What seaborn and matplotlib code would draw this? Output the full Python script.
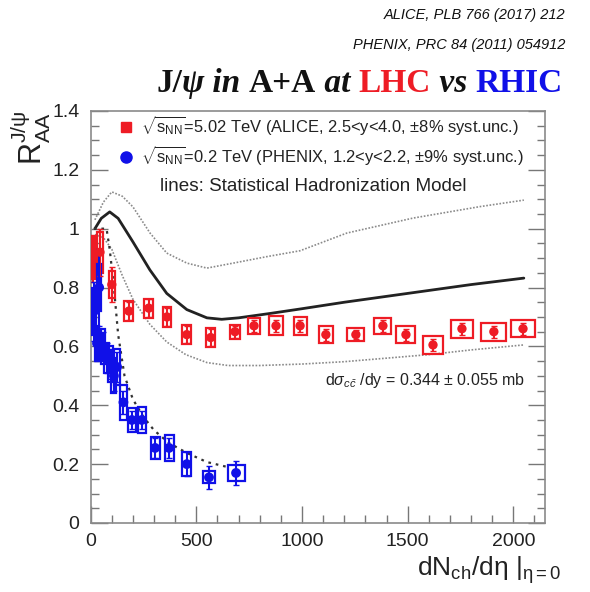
import numpy as np
import pandas as pd
import matplotlib
matplotlib.use("Agg")
import matplotlib.pyplot as plt
import seaborn as sns
from matplotlib.patches import Rectangle
from matplotlib.lines import Line2D

# ---------------- data ----------------
alice_x = [13, 44, 100, 181, 275, 361, 455, 568, 683, 773, 877, 991, 1113, 1255, 1383, 1492, 1620, 1757, 1908, 2046]
alice_y = [0.90, 0.92, 0.81, 0.72, 0.73, 0.70, 0.64, 0.63, 0.65, 0.67, 0.67, 0.67, 0.64, 0.64, 0.67, 0.64, 0.605, 0.66, 0.65, 0.66]
alice_stat = [0.08, 0.08, 0.06, 0.03, 0.03, 0.03, 0.03, 0.03, 0.02, 0.02, 0.02, 0.02, 0.02, 0.015, 0.02, 0.02, 0.02, 0.02, 0.02, 0.02]
alice_sy = [0.07, 0.07, 0.045, 0.035, 0.032, 0.034, 0.032, 0.032, 0.024, 0.027, 0.032, 0.03, 0.03, 0.022, 0.028, 0.03, 0.03, 0.03, 0.03, 0.028]
alice_sx = [7, 14, 13, 21, 21, 19, 21, 21, 24, 28, 33, 31, 33, 40, 40, 45, 47, 54, 59, 55]

phenix_x = [16, 30, 40, 60, 77, 95, 110, 125, 155, 195, 242, 305, 371, 455, 560, 688]
phenix_y = [0.72, 0.61, 0.80, 0.60, 0.56, 0.54, 0.50, 0.53, 0.41, 0.35, 0.35, 0.255, 0.255, 0.20, 0.155, 0.17]
phenix_stat = [0.10, 0.06, 0.13, 0.05, 0.05, 0.05, 0.05, 0.05, 0.04, 0.03, 0.03, 0.035, 0.035, 0.04, 0.04, 0.04]
phenix_sy = [0.08, 0.06, 0.08, 0.06, 0.05, 0.06, 0.06, 0.06, 0.06, 0.04, 0.043, 0.037, 0.043, 0.04, 0.02, 0.027]
phenix_sx = [8, 8, 8, 10, 12, 12, 12, 14, 17, 18, 20, 21, 21, 21, 28, 40]

shm_x = [20, 50, 90, 130, 200, 280, 360, 455, 550, 620, 700, 850, 1000, 1200, 1400, 1600, 1800, 2050]
shm_y = [1.00, 1.035, 1.057, 1.035, 0.955, 0.86, 0.78, 0.725, 0.697, 0.692, 0.697, 0.712, 0.728, 0.75, 0.77, 0.79, 0.81, 0.832]

shm_up_x = [20, 60, 100, 150, 200, 281, 360, 455, 550, 675, 834, 991, 1212, 1526, 1843, 2050]
shm_up_y = [1.03, 1.09, 1.125, 1.11, 1.074, 0.985, 0.917, 0.883, 0.866, 0.883, 0.905, 0.925, 0.985, 1.036, 1.075, 1.097]

shm_lo_x = [20, 60, 100, 150, 200, 280, 360, 450, 550, 650, 800, 1000, 1200, 1400, 1600, 1800, 2050]
shm_lo_y = [0.98, 0.97, 0.93, 0.84, 0.76, 0.675, 0.615, 0.572, 0.545, 0.535, 0.535, 0.54, 0.548, 0.56, 0.572, 0.588, 0.605]

rhic_shm_x = [15, 75, 90, 110, 130, 160, 200, 250, 300, 370, 455, 550, 660]
rhic_shm_y = [1.0, 1.0, 0.93, 0.80, 0.64, 0.50, 0.42, 0.36, 0.315, 0.272, 0.238, 0.207, 0.188]

xticks = [0, 500, 1000, 1500, 2000]
xtick_labels = ["0", "500", "1000", "1500", "2000"]
yticks = [0, 0.2, 0.4, 0.6, 0.8, 1.0, 1.2, 1.4]
ytick_labels = ["0", "0.2", "0.4", "0.6", "0.8", "1", "1.2", "1.4"]

RED = "#ee1c25"
BLUE = "#1010e8"

# ---------------- style ----------------
sns.set_theme(style="ticks")
plt.rcParams["font.family"] = ["Liberation Sans", "DejaVu Sans"]
plt.rcParams["mathtext.fontset"] = "custom"
plt.rcParams["mathtext.rm"] = "Liberation Sans"
plt.rcParams["mathtext.it"] = "Liberation Sans:italic"
plt.rcParams["mathtext.bf"] = "Liberation Sans:bold"

fig = plt.figure(figsize=(5.9, 5.92), dpi=100)
ax = fig.add_axes([0.1537, 0.1166, 0.770, 0.696])

# model curves
sns.lineplot(x=shm_up_x, y=shm_up_y, ax=ax, color="#8a8a8a", lw=1.2, linestyle=(0, (1, 1)), sort=False, estimator=None)
sns.lineplot(x=shm_lo_x, y=shm_lo_y, ax=ax, color="#8a8a8a", lw=1.2, linestyle=(0, (1, 1)), sort=False, estimator=None)
sns.lineplot(x=shm_x, y=shm_y, ax=ax, color="#222222", lw=2.0, sort=False, estimator=None)
sns.lineplot(x=rhic_shm_x, y=rhic_shm_y, ax=ax, color="#333333", lw=1.6, linestyle=(0, (1.2, 2.2)), sort=False, estimator=None)

# systematic boxes
for x, y, sx, sy in zip(alice_x, alice_y, alice_sx, alice_sy):
    ax.add_patch(Rectangle((x - sx, y - sy), 2 * sx, 2 * sy, fill=False, ec=RED, lw=1.6, zorder=3))
for x, y, sx, sy in zip(phenix_x, phenix_y, phenix_sx, phenix_sy):
    ax.add_patch(Rectangle((x - sx, y - sy), 2 * sx, 2 * sy, fill=False, ec=BLUE, lw=1.6, zorder=3))

# stat errors
ax.errorbar(alice_x, alice_y, yerr=alice_stat, fmt="none", ecolor=RED, elinewidth=1.5, capsize=2, zorder=4)
ax.errorbar(phenix_x, phenix_y, yerr=phenix_stat, fmt="none", ecolor=BLUE, elinewidth=1.5, capsize=2, zorder=4)

# points
sns.scatterplot(x=alice_x, y=alice_y, ax=ax, marker="o", color=RED, s=45, edgecolor="none", zorder=5)
sns.scatterplot(x=phenix_x, y=phenix_y, ax=ax, marker="o", color=BLUE, s=50, edgecolor="none", zorder=5)

ax.set_xlim(0, 2150)
ax.set_ylim(0, 1.4)
ax.set_xticks(xticks)
ax.set_xticklabels(xtick_labels)
ax.set_yticks(yticks)
ax.set_yticklabels(ytick_labels)
ax.set_xticks(np.arange(0, 2150, 100), minor=True)
ax.set_yticks(np.arange(0, 1.41, 0.05), minor=True)
ax.tick_params(which="both", direction="in", right=True, top=False, color="#777777", width=1.0)
ax.tick_params(which="major", length=12, labelsize=14, labelcolor="#222222")
ax.tick_params(which="minor", length=6)
ax.tick_params(axis="y", pad=8)
ax.tick_params(axis="x", pad=7)
for sp in ax.spines.values():
    sp.set_color("#8a8a8a")
    sp.set_linewidth(1.2)

ax.set_ylabel(r"R$_{\rm AA}^{\rm J/ψ}$", fontsize=22, color="#222222")
ax.yaxis.set_label_coords(-0.082, 0.935)
ax.set_xlabel(r"dN$_{\rm ch}$/dη |$_{\rm η=0}$", fontsize=19, color="#222222", ha="right")
ax.xaxis.set_label_coords(1.035, -0.075)

# legend
handles = [Line2D([], [], marker="s", color=RED, ls="none", ms=7.5),
           Line2D([], [], marker="o", color=BLUE, ls="none", ms=8)]
labels = [r"$\sqrt{\rm s_{NN}}$=5.02 TeV (ALICE, 2.5<y<4.0, $\pm$8% syst.unc.)",
          r"$\sqrt{\rm s_{NN}}$=0.2 TeV (PHENIX, 1.2<y<2.2, $\pm$9% syst.unc.)"]
leg = ax.legend(handles, labels, loc="upper left", bbox_to_anchor=(0.03, 1.019), frameon=False,
                fontsize=11.9, handletextpad=0.3, labelspacing=0.4, handlelength=1.2, borderaxespad=0.3)
for t in leg.get_texts():
    t.set_color("#222222")

ax.text(0.152, 0.816, "lines: Statistical Hadronization Model", transform=ax.transAxes,
        fontsize=13.6, color="#222222", va="center", ha="left")
ax.text(0.956, 0.345, r"d$\sigma_{c\bar{c}}$ /dy = 0.344 $\pm$ 0.055 mb", transform=ax.transAxes,
        fontsize=11.5, color="#222222", va="center", ha="right")

# references
fig.text(0.959, 0.974, "ALICE, PLB 766 (2017) 212", fontsize=10.5, style="italic", ha="right", va="center", color="#111111")
fig.text(0.959, 0.924, "PHENIX, PRC 84 (2011) 054912", fontsize=10.5, style="italic", ha="right", va="center", color="#111111")

# title built from pieces
pieces = [("J/", "normal", "#111111"), ("ψ", "italic", "#111111"), (" in ", "italic", "#111111"),
          ("A+A", "normal", "#111111"), (" at ", "italic", "#111111"), ("LHC", "normal", RED),
          (" vs ", "italic", "#111111"), ("RHIC", "normal", BLUE)]
texts = []
for s, st, c in pieces:
    texts.append(fig.text(0, 0.845, s, fontsize=24, fontweight="bold", style=st, color=c,
                          family=["Liberation Serif", "DejaVu Serif"], ha="left", va="baseline"))
fig.canvas.draw()
r = fig.canvas.get_renderer()
widths = [t.get_window_extent(r).width for t in texts]
W = fig.bbox.width
cur = 563 - sum(widths)
for t, w in zip(texts, widths):
    t.set_x(cur / W)
    cur += w

fig.savefig("out.png", dpi=100)
